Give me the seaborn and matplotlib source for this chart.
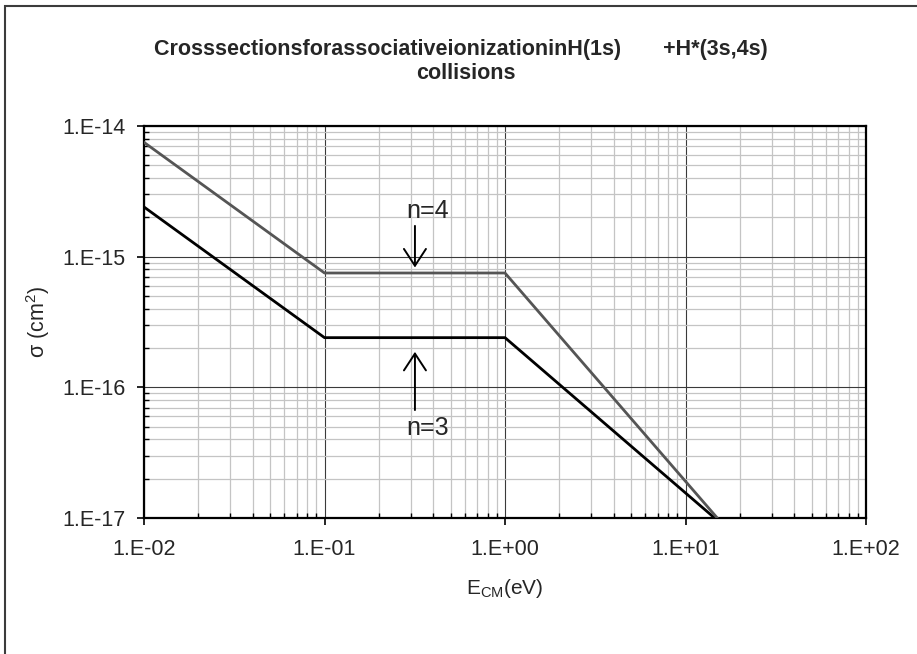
import matplotlib
matplotlib.use("Agg")
import matplotlib.pyplot as plt
import matplotlib.ticker as mticker
from matplotlib.patches import Rectangle
import numpy as np
import pandas as pd
import seaborn as sns

# Cross sections (cm^2) versus centre-of-mass energy (eV)
energy_n3 = [0.01, 0.1, 1.0, 14.5]
sigma_n3 = [2.4e-15, 2.4e-16, 2.4e-16, 1.0e-17]
energy_n4 = [0.01, 0.1, 1.0, 15.0]
sigma_n4 = [7.5e-15, 7.5e-16, 7.5e-16, 1.0e-17]

x_ticks = [1e-2, 1e-1, 1e0, 1e1, 1e2]
x_tick_labels = ["1.E-02", "1.E-01", "1.E+00", "1.E+01", "1.E+02"]
y_ticks = [1e-17, 1e-16, 1e-15, 1e-14]
y_tick_labels = ["1.E-17", "1.E-16", "1.E-15", "1.E-14"]

df = pd.concat([
    pd.DataFrame({"E": energy_n3, "sigma": sigma_n3, "n": "n=3"}),
    pd.DataFrame({"E": energy_n4, "sigma": sigma_n4, "n": "n=4"}),
], ignore_index=True)

sns.set_style("white")
plt.rcParams["font.family"] = ["Liberation Sans", "DejaVu Sans"]
plt.rcParams["mathtext.default"] = "regular"

fig = plt.figure(figsize=(9.17, 6.54), dpi=100)
ax = fig.add_axes([144 / 917, 1 - 518 / 654, 722 / 917, 392 / 654])

ax.set_xscale("log")
ax.set_yscale("log")
ax.set_xlim(1e-2, 1e2)
ax.set_ylim(1e-17, 1e-14)

ax.grid(which="minor", color="#c4c4c4", lw=0.9, zorder=0)
ax.grid(which="major", color="#3a3a3a", lw=0.8, zorder=0)
ax.set_axisbelow(True)

sns.lineplot(data=df, x="E", y="sigma", hue="n", estimator=None, sort=False,
             palette={"n=3": "#000000", "n=4": "#555555"}, lw=2.0,
             legend=False, ax=ax, zorder=3)

ax.xaxis.set_major_locator(mticker.FixedLocator(x_ticks))
ax.xaxis.set_major_formatter(mticker.FixedFormatter(x_tick_labels))
ax.yaxis.set_major_locator(mticker.FixedLocator(y_ticks))
ax.yaxis.set_major_formatter(mticker.FixedFormatter(y_tick_labels))
ax.xaxis.set_minor_locator(mticker.LogLocator(base=10, subs=np.arange(2, 10)))
ax.yaxis.set_minor_locator(mticker.LogLocator(base=10, subs=np.arange(2, 10)))
ax.xaxis.set_minor_formatter(mticker.NullFormatter())
ax.yaxis.set_minor_formatter(mticker.NullFormatter())

ax.tick_params(which="major", direction="out", length=5, width=1.2,
               color="black", labelsize=15.5, bottom=True, left=True)
ax.tick_params(axis="x", which="major", pad=10)
ax.tick_params(axis="y", which="major", pad=8)
ax.tick_params(which="minor", direction="in", length=3.5, width=1.0,
               color="black", bottom=True, left=True)

for side in ["left", "right", "top", "bottom"]:
    ax.spines[side].set_visible(True)
    ax.spines[side].set_color("black")
    ax.spines[side].set_linewidth(1.6)

ax.set_xlabel("E$_{CM}$(eV)", fontsize=15)
ax.set_ylabel("σ (cm$^{2}$)", fontsize=15.5)
ax.xaxis.set_label_coords(0.5, -0.150)
ax.xaxis.label.set_va("top")
ax.yaxis.set_label_coords(-0.127, 0.5)

# Series labels with pointer arrows
arrow_kw = dict(arrowstyle="->,head_length=0.55,head_width=0.36",
                color="black", lw=1.4, shrinkA=0, shrinkB=0,
                mutation_scale=22)
ax.annotate("", xy=(0.317, 8.26e-16), xytext=(0.317, 1.72e-15),
            arrowprops=arrow_kw, annotation_clip=False)
ax.annotate("", xy=(0.317, 1.87e-16), xytext=(0.317, 6.7e-17),
            arrowprops=arrow_kw, annotation_clip=False)
ax.text(0.374, 2.24e-15, "n=4", fontsize=18, ha="center", va="center")
ax.text(0.374, 4.9e-17, "n=3", fontsize=18, ha="center", va="center")

fig.text(0.503, 1 - 55 / 654,
         "CrosssectionsforassociativeionizationinH(1s)       +H*(3s,4s)",
         fontsize=15.5, fontweight="bold", ha="center", va="baseline")
fig.text(0.508, 1 - 79 / 654, "collisions",
         fontsize=15.5, fontweight="bold", ha="center", va="baseline")

# Chart frame
fig.patches.append(Rectangle((4.5 / 917, -0.02), 1.0, 1 - 5.5 / 654 + 0.02,
                             transform=fig.transFigure, fill=False,
                             edgecolor="#3c3c3c", lw=1.5))

fig.savefig("out.png", dpi=100, facecolor="white")
